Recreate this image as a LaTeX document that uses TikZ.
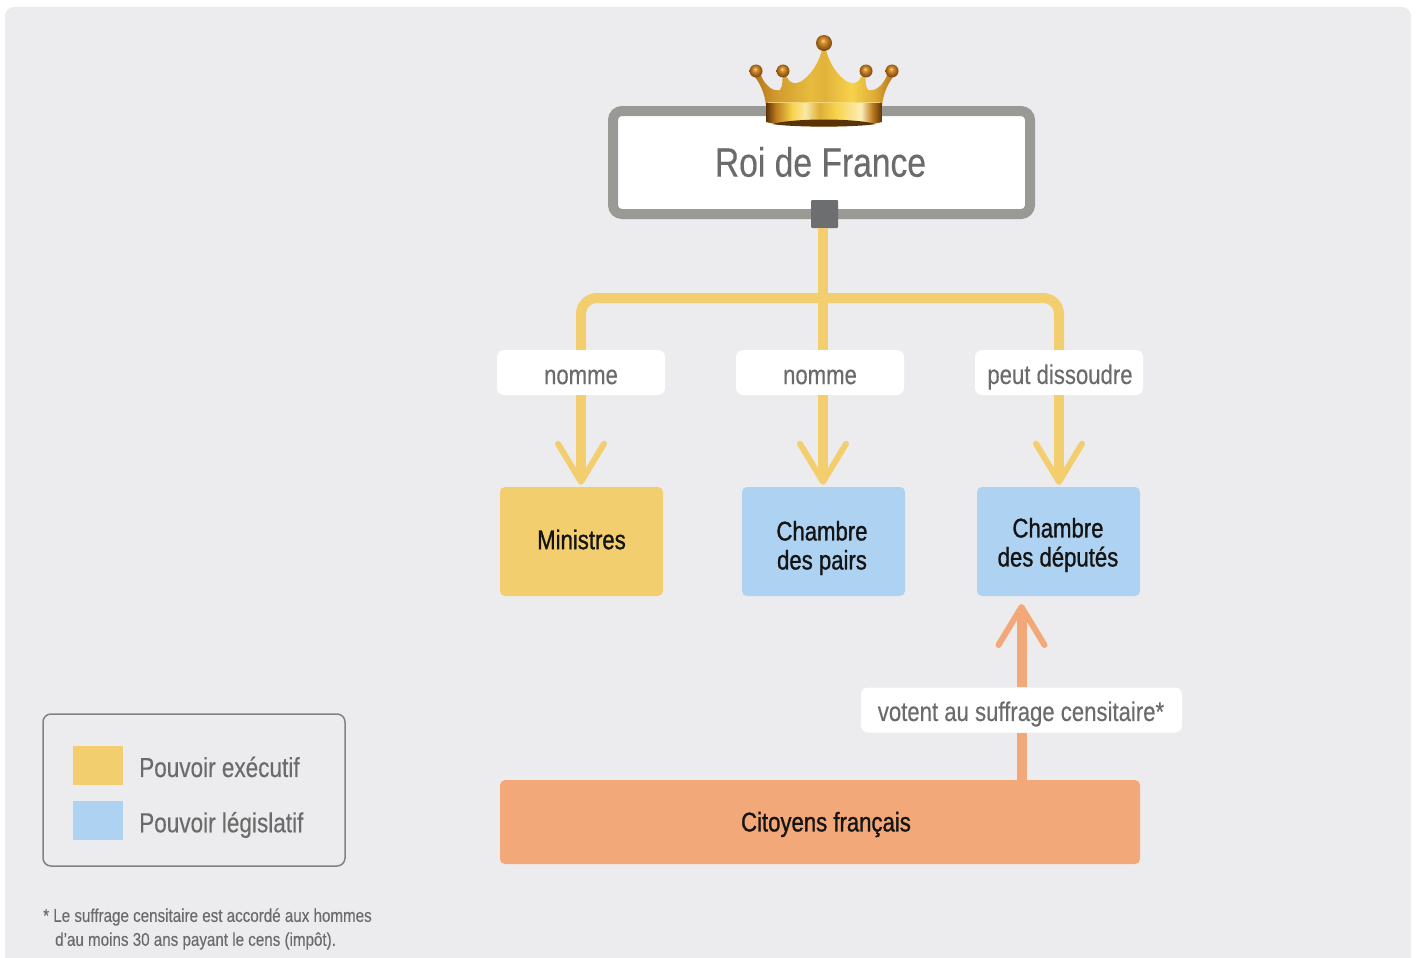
\documentclass[tikz,border=0pt]{standalone}
\usepackage{fontspec}
\setmainfont{Liberation Sans}[FakeStretch=0.82,FakeBold=0.3]
\newfontfamily\boxfont{Liberation Sans}[FakeStretch=0.82,FakeBold=1.0]
\usetikzlibrary{arrows.meta}
\definecolor{bgc}{HTML}{ECECEE}
\definecolor{yel}{HTML}{F3CE6F}
\definecolor{blu}{HTML}{AED2F1}
\definecolor{ora}{HTML}{F2A878}
\definecolor{gry}{HTML}{999996}
\definecolor{sqc}{HTML}{6D6E70}
\definecolor{txt}{HTML}{6B6B6B}
\definecolor{golda}{HTML}{F7D24A}
\definecolor{goldb}{HTML}{B9771C}
\definecolor{goldc}{HTML}{5A3208}
\pgfdeclareradialshading{goldball}{\pgfpoint{-4bp}{8bp}}{rgb(0bp)=(0.98,0.85,0.55);rgb(7bp)=(0.85,0.58,0.2);rgb(18bp)=(0.65,0.4,0.1);rgb(30bp)=(0.42,0.25,0.05);rgb(50bp)=(0.42,0.25,0.05)}
\pgfdeclarehorizontalshading{goldbody}{100bp}{color(0bp)=(goldb);color(25bp)=(goldb);color(33bp)=(goldb!60!golda);color(45bp)=(goldb!25!golda);color(50bp)=(goldb!35!golda);color(60bp)=(golda);color(68bp)=(goldb!40!golda);color(75bp)=(goldb);color(100bp)=(goldb)}
\pgfdeclarehorizontalshading{goldband}{100bp}{color(0bp)=(goldc);color(25bp)=(goldc);color(29bp)=(goldb);color(36bp)=(golda);color(42bp)=(golda!50!white);color(48bp)=(goldb!40!golda);color(55bp)=(golda);color(66bp)=(golda!40!white);color(71bp)=(goldb);color(75bp)=(goldc);color(100bp)=(goldc)}
\tikzset{
  x=1pt,y=-1pt,
  box/.style={rounded corners=5pt,minimum width=#1,inner sep=0pt,align=center,font=\boxfont\fontsize{27}{29}\selectfont,text=black!92},
  lbl/.style={fill=white,rounded corners=7pt,minimum width=168pt,minimum height=45pt,inner sep=0pt,text=txt,font=\fontsize{27}{29}\selectfont},
  ylink/.style={draw=yel,line width=10pt,line cap=butt},
  olink/.style={draw=ora,line width=10pt,line cap=butt},
  ybarb/.style={-{Straight Barb[length=38pt,width=46pt,line width=6pt,round,color=yel]},shorten >=2pt},
  obarb/.style={-{Straight Barb[length=38pt,width=46pt,line width=6pt,round,color=ora]}},
  swatch/.style={minimum width=50pt,minimum height=39pt,inner sep=0pt},
  legtext/.style={anchor=west,inner sep=0pt,text=txt,font=\fontsize{27.5}{29}\selectfont},
  note/.style={anchor=west,inner sep=0pt,text=txt,font=\fontsize{18.5}{20}\selectfont},
  ball/.style={shading=goldball}
}
\begin{document}
\begin{tikzpicture}
\useasboundingbox (0,0) rectangle (1419,958);
\fill[white] (0,0) rectangle (1419,958);
\begin{scope}
\clip (0,0) rectangle (1419,958);
\fill[bgc,rounded corners=9pt] (5,7) rectangle (1411,980);
\end{scope}
% king box
\node[draw=gry,line width=10pt,fill=white,rounded corners=9pt,minimum width=417pt,minimum height=103pt,inner sep=0pt] (roi) at (821.5,162.5) {};
\node[inner sep=0pt,text=txt,font=\fontsize{41}{43}\selectfont] (roit) at (820.5,162) {Roi de France};
% boxes
\node[box=163pt,fill=yel,minimum height=109pt] (min) at (581.5,541.5) {};
\node[box=163pt,fill=blu,minimum height=109pt] (pai) at (823.5,541.5) {};
\node[box=163pt,fill=blu,minimum height=109pt] (dep) at (1058.5,541.5) {};
\node[box=640pt,fill=ora,minimum height=84pt] (cit) at (820,822) {};
\node[box=100pt,inner sep=0pt] (mint) at (581.5,539.5) {Ministres};
\node[box=100pt] (mint2) at (822,548) {Chambre\\des pairs};
\node[box=100pt] (mint3) at (1058,545) {Chambre\\des députés};
\node[box=200pt] (cit2) at (826,824.5) {Citoyens français};
% labels
\node[lbl] (l1) at (581,372.5) {};
\node[lbl] (l2) at (820,372.5) {};
\node[lbl] (l3) at (1059,372.5) {};
\node[lbl,minimum width=321pt] (l4) at (1021.5,710) {};
\node[lbl,fill=none] (lt1) at (581,377) {nomme};
\node[lbl,fill=none] (lt2) at (820,377) {nomme};
\node[lbl,fill=none] (lt3) at (1060,377) {peut dissoudre};
\node[lbl,fill=none] (lt4) at (1021,714) {votent au suffrage censitaire*};
% square
\node[fill=sqc,rounded corners=1pt,minimum width=27pt,minimum height=28pt,inner sep=0pt] (sq) at (824.5,214) {};
\coordinate (j) at (823,298);
% connectors
\path[ylink,rounded corners=16pt] (l1.north) |- (j) -| (l3.north);
\path[ylink] (j |- sq.south) -- (j |- l2.north);
\path[ylink,ybarb] (l1.south) -- (l1.south |- min.north);
\path[ylink,ybarb] (j |- l2.south) -- (j |- pai.north);
\path[ylink,ybarb] (l3.south) -- (l3.south |- dep.north);
\coordinate (d) at (1021.5,604);
\path[olink] (l4.south) -- (l4.south |- cit.north);
\path[olink,obarb] (l4.north) -- (d);
% legend
\node[draw=gry!85!black,line width=1.5pt,rounded corners=8pt,minimum width=302pt,minimum height=152pt,inner sep=0pt] (leg) at (194,790) {};
\node[swatch,fill=yel] (s1) at (98,765.5) {};
\node[swatch,fill=blu] (s2) at (98,820.5) {};
\node[legtext] (t1) at (139,767) {Pouvoir exécutif};
\node[legtext] (t2) at (139,825) {Pouvoir législatif};
\node[note] (n1) at (43,917) {* Le suffrage censitaire est accordé aux hommes};
\node[note] (n2) at (55,941) {d'au moins 30 ans payant le cens (impôt).};
% crown
\shade[shading=goldbody]
  (766,106) .. controls (765,95) and (761,85) .. (755,77)
  -- (761,75) .. controls (764,84) and (772,92) .. (780,90)
  .. controls (783,86) and (782,80) .. (783,75)
  -- (787,77) .. controls (790,84) and (795,84) .. (800,82)
  .. controls (811,76) and (819,62) .. (822,50) -- (826,50)
  .. controls (829,62) and (837,76) .. (848,82)
  .. controls (853,84) and (858,84) .. (861,77) -- (865,75)
  .. controls (866,80) and (865,86) .. (868,90)
  .. controls (876,92) and (884,84) .. (887,75)
  -- (893,77) .. controls (887,85) and (883,95) .. (882,106) -- cycle;
\shade[shading=goldband]
  (766,103) -- (882,103) -- (882,122) .. controls (860,128) and (788,128) .. (766,122) -- cycle;
\draw[golda!60!white,line width=0.8pt,opacity=.7] (768,102) -- (880,102);
\fill[goldc] (772,124) .. controls (795,118) and (853,118) .. (876,124) .. controls (855,127.5) and (793,127.5) .. (772,124) -- cycle;
\shade[ball] (824,43) circle (8);
\shade[ball] (756,71) circle (6.5);
\shade[ball] (783,71) circle (6.5);
\shade[ball] (866,71) circle (6.5);
\shade[ball] (892,71) circle (6.5);
\end{tikzpicture}
\end{document}
